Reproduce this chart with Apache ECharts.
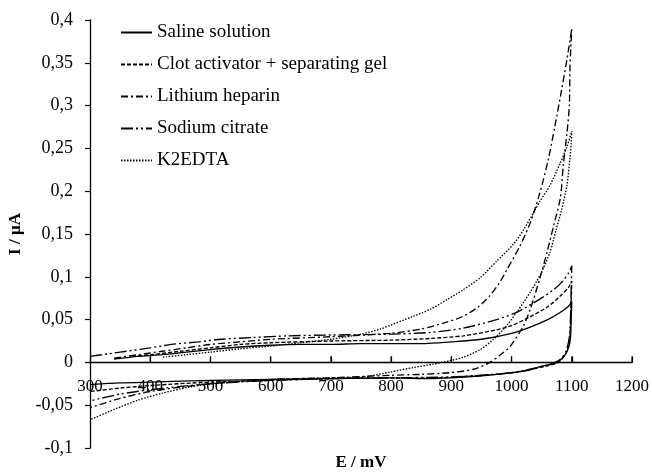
<!DOCTYPE html>
<html>
<head>
<meta charset="utf-8">
<script src="https://cdn.jsdelivr.net/npm/echarts@6/dist/echarts.min.js"></script>
<style>
html,body{margin:0;padding:0;background:#fff;}
#chart{width:652px;height:473px;}
</style>
</head>
<body>
<div id="chart"></div>
<script>
// ---- Data (E in mV, I in µA), forward scan then reverse scan ----
const seriesNames = ["Saline solution", "Clot activator + separating gel", "Lithium heparin", "Sodium citrate", "K2EDTA"];
const xTicks = [300, 400, 500, 600, 700, 800, 900, 1000, 1100, 1200];
const yTicks = [-0.1, -0.05, 0, 0.05, 0.1, 0.15, 0.2, 0.25, 0.3, 0.35, 0.4];

const salineE = [340, 380, 420, 460, 500, 550, 600, 650, 700, 750, 800, 850, 900, 950, 1000, 1030, 1060, 1080, 1095, 1100,
                 1099, 1098, 1095, 1088, 1075, 1060, 1047, 1030, 1003, 975, 948, 900, 865, 800, 700, 600, 500, 400, 350, 300];
const salineI = [0.004, 0.007, 0.009, 0.012, 0.015, 0.018, 0.020, 0.021, 0.021, 0.022, 0.022, 0.022, 0.024, 0.027, 0.034, 0.041, 0.050, 0.058, 0.066, 0.071,
                 0.050, 0.030, 0.018, 0.008, 0.000, -0.003, -0.005, -0.009, -0.012, -0.014, -0.016, -0.018, -0.019, -0.018, -0.019, -0.020, -0.021, -0.023, -0.024, -0.026];

const clotE = [370, 400, 450, 500, 550, 600, 700, 800, 865, 920, 975, 1000, 1030, 1060, 1080, 1095, 1100,
               1099, 1098, 1096, 1090, 1078, 1060, 1040, 1010, 975, 930, 880, 800, 700, 600, 500, 400, 350, 300];
const clotI = [0.007, 0.009, 0.013, 0.017, 0.021, 0.023, 0.025, 0.026, 0.028, 0.031, 0.038, 0.043, 0.053, 0.065, 0.077, 0.088, 0.095,
               0.070, 0.045, 0.025, 0.010, 0.000, -0.004, -0.007, -0.011, -0.014, -0.016, -0.018, -0.018, -0.019, -0.021, -0.023, -0.027, -0.030, -0.034];

const lithiumE = [340, 380, 420, 460, 500, 550, 600, 700, 800, 850, 892, 920, 945, 964, 980, 992, 1014, 1031, 1047, 1061, 1072, 1083, 1092, 1100,
                  1099, 1097, 1096, 1092, 1086, 1081, 1070, 1059, 1047, 1031, 1020, 998, 980, 964, 937, 898, 850, 800, 700, 600, 500, 450, 400, 350, 300];
const lithiumI = [0.005, 0.009, 0.013, 0.017, 0.021, 0.024, 0.027, 0.030, 0.034, 0.039, 0.047, 0.054, 0.065, 0.078, 0.093, 0.108, 0.136, 0.163, 0.198, 0.237, 0.276, 0.318, 0.354, 0.390,
                  0.376, 0.345, 0.300, 0.268, 0.231, 0.192, 0.160, 0.129, 0.098, 0.062, 0.043, 0.019, 0.008, 0.000, -0.008, -0.012, -0.014, -0.015, -0.018, -0.020, -0.025, -0.029, -0.034, -0.042, -0.053];

const sodiumE = [300, 330, 350, 400, 435, 480, 518, 570, 629, 700, 800, 865, 920, 975, 1010, 1047, 1070, 1085, 1095, 1100,
                 1099, 1098, 1096, 1091, 1082, 1072, 1055, 1030, 1000, 950, 900, 800, 700, 600, 500, 450, 400, 350, 300];
const sodiumI = [0.007, 0.010, 0.012, 0.017, 0.021, 0.024, 0.027, 0.029, 0.031, 0.032, 0.033, 0.035, 0.040, 0.050, 0.059, 0.074, 0.085, 0.095, 0.105, 0.113,
                 0.085, 0.055, 0.030, 0.014, 0.004, 0.000, -0.004, -0.008, -0.012, -0.015, -0.017, -0.018, -0.019, -0.021, -0.025, -0.028, -0.032, -0.037, -0.045];

const edtaE = [421, 460, 500, 550, 600, 650, 700, 750, 782, 837, 865, 892, 920, 948, 975, 1003, 1020, 1039, 1047, 1064, 1081, 1092, 1100,
               1099, 1097, 1092, 1083, 1074, 1064, 1048, 1031, 1010, 992, 970, 948, 920, 898, 870, 837, 800, 754, 700, 600, 500, 463, 420, 380, 340, 300];
const edtaI = [0.006, 0.009, 0.012, 0.016, 0.019, 0.023, 0.027, 0.033, 0.039, 0.054, 0.062, 0.073, 0.085, 0.099, 0.118, 0.138, 0.155, 0.178, 0.188, 0.207, 0.233, 0.252, 0.270,
               0.255, 0.239, 0.207, 0.178, 0.155, 0.129, 0.103, 0.082, 0.060, 0.043, 0.027, 0.015, 0.006, 0.002, -0.002, -0.006, -0.011, -0.017, -0.018, -0.020, -0.025, -0.029, -0.036, -0.044, -0.055, -0.067];

const dashStyles = ["solid", [4, 2], [7, 3, 2, 3], [12, 3, 2, 3, 2, 3], [1.5, 1.5]];
const seriesE = [salineE, clotE, lithiumE, sodiumE, edtaE];
const seriesI = [salineI, clotI, lithiumI, sodiumI, edtaI];

const FONT = "'Liberation Serif', 'Times New Roman', serif";
const fmtY = v => String(Math.round(v * 100) / 100).replace('.', ',');
const fmtX = v => String(Math.round(v));

const W = 652, H = 473, GL = 90, GR = 20, GT = 20, GB = 25;
const yMin = yTicks[0], yMax = yTicks[yTicks.length - 1];
const xMin = xTicks[0], xMax = xTicks[xTicks.length - 1];
const plotH = H - GT - GB;
// pixel distance of I = 0 from the bottom of the grid
const zeroFromBottom = plotH * (0 - yMin) / (yMax - yMin);
const TICK_LEN = 6;

const lineSeries = seriesNames.map((name, k) => ({
  name: name,
  type: 'line',
  data: seriesE[k].map((e, i) => [e, seriesI[k][i]]),
  symbol: 'none',
  smooth: 0.25,
  lineStyle: {color: '#000', width: 1.35, type: dashStyles[k]},
  itemStyle: {color: '#000'}
}));

// upward tick marks on the I = 0 axis line, placed through the axis scale
const tickSeries = {
  name: 'xTicks',
  type: 'custom',
  silent: true,
  clip: false,
  data: xTicks.slice(1).map(v => [v, 0]),
  renderItem: (params, api) => {
    const p = api.coord([api.value(0), api.value(1)]);
    return {
      type: 'line',
      shape: {x1: p[0], y1: p[1], x2: p[0], y2: p[1] - TICK_LEN},
      style: {stroke: '#000', lineWidth: 1.2}
    };
  },
  z: 5
};

const chart = echarts.init(document.getElementById('chart'), null, {renderer: 'canvas'});
chart.setOption({
  animation: false,
  backgroundColor: '#fff',
  grid: {left: GL, right: GR, top: GT, bottom: GB, containLabel: false, outerBoundsMode: 'none'},
  legend: {
    orient: 'vertical', left: 115, top: 18,
    itemWidth: 31, itemHeight: 14, itemGap: 13,
    itemStyle: {color: 'rgba(0,0,0,0)', borderWidth: 0, opacity: 0},
    textStyle: {fontFamily: FONT, fontSize: 19, color: '#000', lineHeight: 18},
    data: seriesNames
  },
  xAxis: {
    type: 'value', min: xMin, max: xMax, interval: 100,
    position: 'bottom', offset: -zeroFromBottom,
    name: 'E / mV', nameLocation: 'middle', nameGap: 92,
    nameTextStyle: {fontFamily: FONT, fontSize: 17, fontWeight: 'bold', color: '#000'},
    axisLine: {onZero: false, lineStyle: {color: '#000', width: 1.3}},
    axisTick: {show: true, inside: true, length: TICK_LEN, lineStyle: {color: '#000', width: 1.2}},
    axisLabel: {fontFamily: FONT, fontSize: 17, color: '#000', margin: 16, formatter: fmtX},
    splitLine: {show: false}
  },
  yAxis: {
    type: 'value', min: yMin, max: yMax, interval: 0.05,
    name: 'I / µA', nameLocation: 'middle', nameGap: 62, nameRotate: 90,
    nameTextStyle: {fontFamily: FONT, fontSize: 17, fontWeight: 'bold', color: '#000'},
    axisLine: {show: true, onZero: false, lineStyle: {color: '#000', width: 1.3}},
    axisTick: {show: true, inside: false, length: 5, lineStyle: {color: '#000', width: 1.2}},
    axisLabel: {fontFamily: FONT, fontSize: 18, color: '#000', margin: 17, formatter: fmtY},
    splitLine: {show: false}
  },
  series: lineSeries.concat([tickSeries])
});
</script>
</body>
</html>
